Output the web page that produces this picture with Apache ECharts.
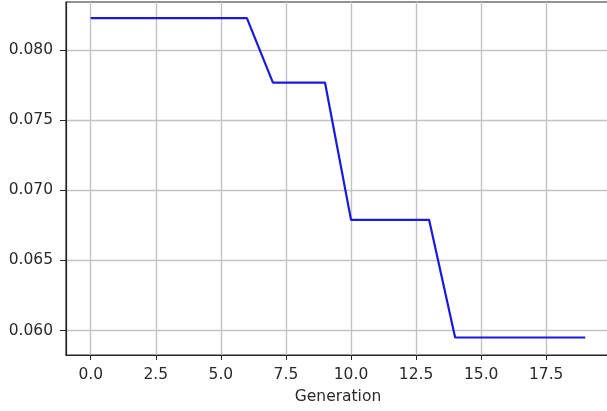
<!DOCTYPE html>
<html>
<head>
<meta charset="utf-8">
<script src="https://cdn.jsdelivr.net/npm/echarts@6/dist/echarts.min.js"></script>
<style>
  html, body { margin: 0; padding: 0; background: #fff; }
  #chart { width: 607px; height: 411px; }
</style>
</head>
<body>
<div id="chart"></div>
<script>
// Best fitness per generation
const generations = [0, 1, 2, 3, 4, 5, 6, 7, 8, 9, 10, 11, 12, 13, 14, 15, 16, 17, 18, 19];
const fitness = [
  0.0823, 0.0823, 0.0823, 0.0823, 0.0823, 0.0823, 0.0823,
  0.0777, 0.0777, 0.0777,
  0.0679, 0.0679, 0.0679, 0.0679,
  0.0595, 0.0595, 0.0595, 0.0595, 0.0595, 0.0595
];
const xTicks = [0, 2.5, 5, 7.5, 10, 12.5, 15, 17.5];
const yTicks = [0.060, 0.065, 0.070, 0.075, 0.080];

const chart = echarts.init(document.getElementById('chart'));
const labelFont = { fontFamily: 'DejaVu Sans', fontSize: 15.5, color: '#2a2a2a' };

chart.setOption({
  animation: false,
  grid: {
    left: 66, top: 2, right: -3, bottom: 56,
    outerBoundsMode: 'none',
    containLabel: false,
    show: true, borderColor: '#262626', borderWidth: 1.2, backgroundColor: '#fff'
  },
  xAxis: {
    type: 'value',
    min: -0.95, max: 19.95,
    name: 'Generation',
    nameLocation: 'middle',
    nameGap: 34,
    nameTextStyle: labelFont,
    axisLine: { show: true, onZero: false, lineStyle: { color: '#262626', width: 1.2 } },
    axisTick: { show: true, length: 5, customValues: xTicks, lineStyle: { color: '#262626' } },
    axisLabel: Object.assign({ margin: 12, customValues: xTicks, formatter: v => v.toFixed(1) }, labelFont),
    splitLine: { show: true, lineStyle: { color: '#c2c2c2', width: 1.4 } }
  },
  yAxis: {
    type: 'value',
    min: 0.05825, max: 0.08345,
    axisLine: { show: true, onZero: false, lineStyle: { color: '#262626', width: 1.2 } },
    axisTick: { show: true, length: 6, customValues: yTicks, lineStyle: { color: '#262626' } },
    axisLabel: Object.assign({ margin: 13, customValues: yTicks, formatter: v => v.toFixed(3) }, labelFont),
    splitLine: { show: true, lineStyle: { color: '#c2c2c2', width: 1.4 } }
  },
  series: [{
    type: 'line',
    data: generations.map((g, i) => [g, fitness[i]]),
    showSymbol: false,
    lineStyle: { color: '#1a1adc', width: 2.2 },
    itemStyle: { color: '#1a1adc' }
  }]
});
</script>
</body>
</html>
